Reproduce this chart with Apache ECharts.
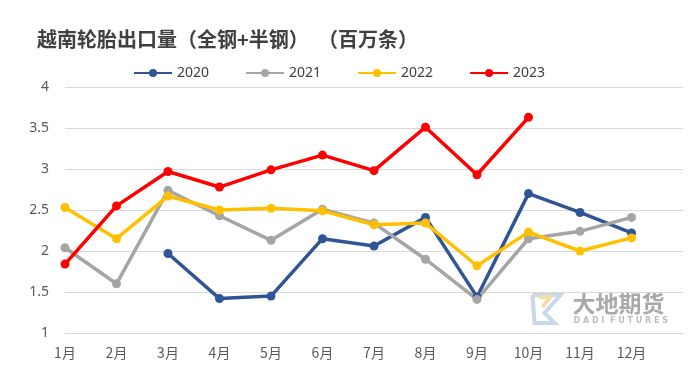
<!DOCTYPE html>
<html>
<head>
<meta charset="utf-8">
<script src="https://cdn.jsdelivr.net/npm/echarts@6/dist/echarts.min.js"></script>
<style>
  html, body { margin: 0; padding: 0; background: #fff; }
  #chart { width: 699px; height: 375px; }
</style>
</head>
<body>
<div id="chart"></div>
<script>
// 月份
var months = ["1月", "2月", "3月", "4月", "5月", "6月", "7月", "8月", "9月", "10月", "11月", "12月"];
var yTicks = [1, 1.5, 2, 2.5, 3, 3.5, 4];
// 各年出口量（百万条）
var y2020 = [null, null, 1.97, 1.42, 1.45, 2.15, 2.06, 2.41, 1.44, 2.70, 2.47, 2.22];
var y2021 = [2.04, 1.60, 2.74, 2.43, 2.13, 2.51, 2.34, 1.90, 1.41, 2.15, 2.24, 2.41];
var y2022 = [2.53, 2.15, 2.67, 2.50, 2.52, 2.49, 2.32, 2.34, 1.82, 2.23, 2.00, 2.16];
var y2023 = [1.84, 2.55, 2.97, 2.78, 2.99, 3.17, 2.98, 3.51, 2.93, 3.63];

var chart = echarts.init(document.getElementById("chart"));

function line(name, data, color) {
  return {
    name: name,
    type: "line",
    data: data,
    symbol: "circle",
    symbolSize: 9,
    lineStyle: { width: 3.5, color: color },
    itemStyle: { color: color },
    connectNulls: false,
  };
}

chart.setOption({
  animation: false,
  textStyle: { fontFamily: "Noto Sans CJK SC" },
  title: {
    text: "越南轮胎出口量（全钢+半钢）  （百万条）",
    left: 32,
    top: 24,
    textStyle: { fontSize: 20, fontWeight: "bold", color: "#404040", fontFamily: "Noto Sans CJK SC" },
  },
  legend: {
    top: 61,
    left: 128,
    itemGap: 36,
    itemWidth: 38,
    itemHeight: 10,
    textStyle: { fontSize: 14, color: "#404040", fontFamily: "Noto Sans" },
    data: ["2020", "2021", "2022", "2023"],
  },
  grid: { left: 65, right: 16, top: 87, bottom: 42 },
  xAxis: {
    type: "category",
    boundaryGap: false,
    data: months.concat([""]),
    axisLine: { show: false },
    axisTick: { show: false },
    axisLabel: { color: "#595959", fontSize: 14, margin: 13 },
  },
  yAxis: {
    type: "value",
    min: yTicks[0],
    max: yTicks[yTicks.length - 1],
    interval: 0.5,
    axisLine: { show: false },
    axisTick: { show: false },
    axisLabel: { color: "#595959", fontSize: 14, margin: 16, fontFamily: "Noto Sans" },
    splitLine: { lineStyle: { color: "#D9D9D9", width: 1 } },
  },
  graphic: [
    {
      type: "group",
      left: 530,
      top: 292,
      silent: true,
      children: [
        { type: "polyline", shape: { points: [[2, 2], [30, 2], [14, 20], [24, 30], [4, 30], [2, 2]] },
          style: { stroke: "#C9D7EA", fill: null, lineWidth: 4 } },
        { type: "polyline", shape: { points: [[8, 4], [20, 4], [12, 14]] },
          style: { stroke: "#F1DFA8", fill: null, lineWidth: 4 } },
        { type: "text", left: 42, top: -1,
          style: { text: "大地期货", font: "bold 23px 'Noto Sans CJK SC'", fill: "#A9A9A9" } },
        { type: "text", left: 43, top: 24,
          style: { text: "D A D I  F U T U R E S", font: "bold 8px 'DejaVu Sans'", fill: "#BDBDBD" } },
      ],
    },
  ],
  series: [
    line("2020", y2020, "#2F5597"),
    line("2021", y2021, "#A5A5A5"),
    line("2022", y2022, "#FFC000"),
    line("2023", y2023, "#FF0000"),
  ],
});
</script>
</body>
</html>
